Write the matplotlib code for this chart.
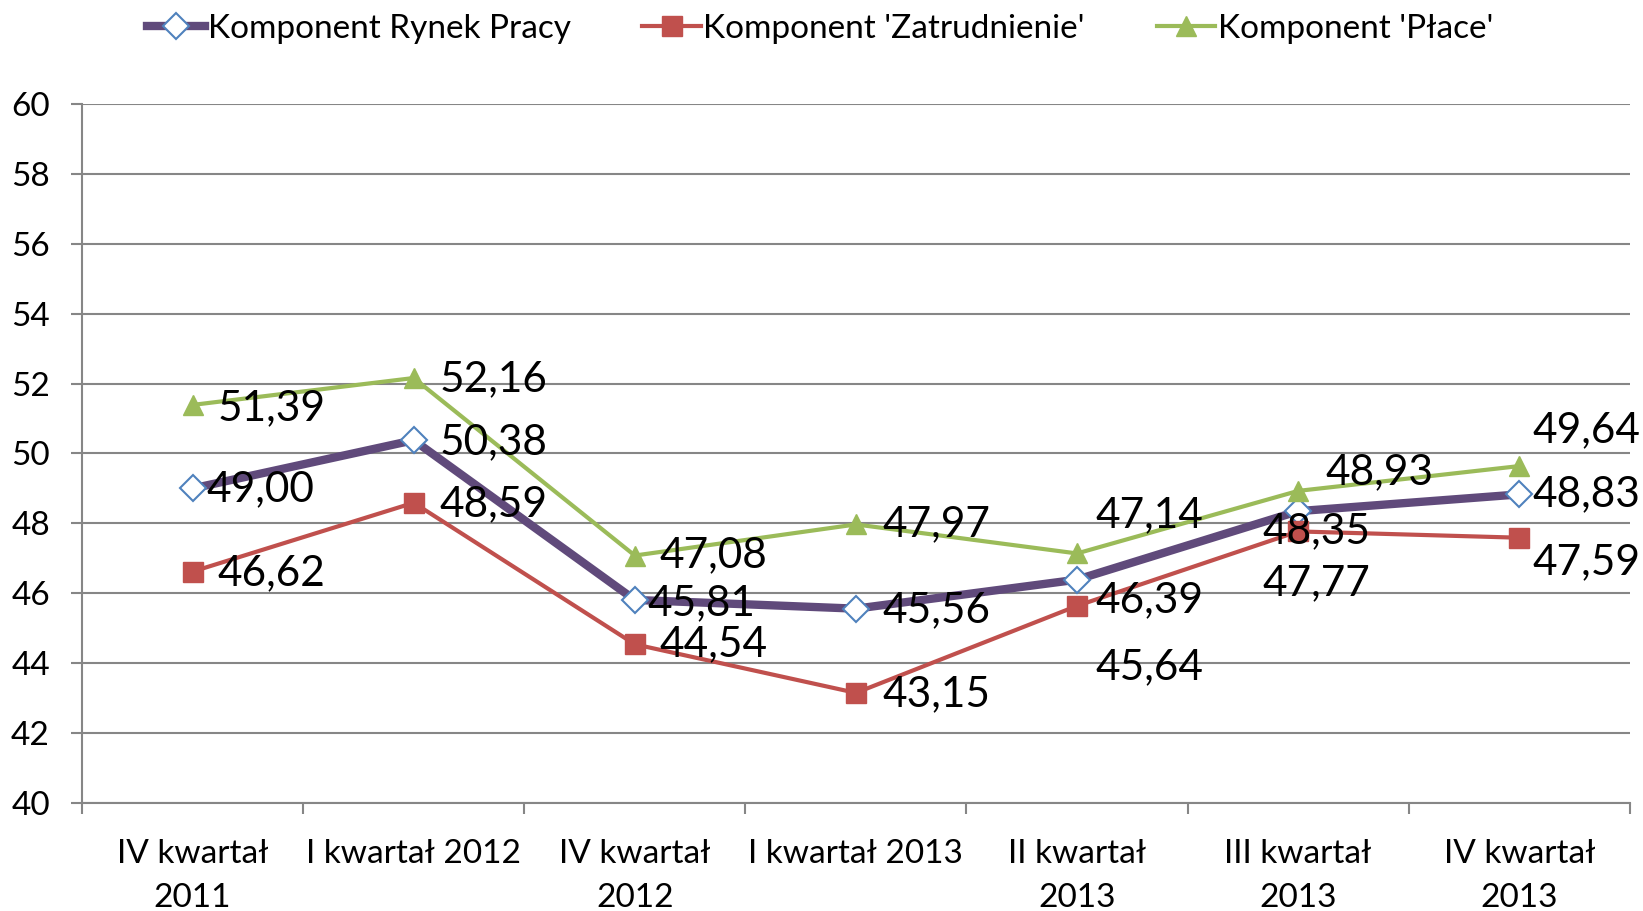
import matplotlib
matplotlib.use('Agg')
import matplotlib.pyplot as plt
from matplotlib.lines import Line2D
import numpy as np

plt.rcParams['font.family'] = ['Lato', 'DejaVu Sans']

categories = ['IV kwartał\n2011', 'I kwartał 2012', 'IV kwartał\n2012', 'I kwartał 2013',
              'II kwartał\n2013', 'III kwartał\n2013', 'IV kwartał\n2013']
rynek = [49.00, 50.38, 45.81, 45.56, 46.39, 48.35, 48.83]
zatrudnienie = [46.62, 48.59, 44.54, 43.15, 45.64, 47.77, 47.59]
place = [51.39, 52.16, 47.08, 47.97, 47.14, 48.93, 49.64]

# label offsets in pixels (dx, dy)
off_rynek = [(14, -1), (26, -2), (13, -3), (27, -2), (18, -21), (-36, -20), (13, 0)]
off_zatr = [(25, -2), (26, -1), (25, 0), (27, -1), (18, -61), (-36, -52), (13, -24)]
off_place = [(25, -3), (26, -1), (25, 0), (27, 0), (18, 38), (27, 19), (13, 36)]

fig = plt.figure(figsize=(16.43, 9.11), dpi=100)
ax = fig.add_axes([0.0499, 0.1186, 0.9421, 0.7672])
x = np.arange(len(categories))

purple = '#604A7B'
red = '#C0504D'
green = '#9BBB59'
blue = '#4F81BD'

style_r = dict(color=purple, lw=6, marker='D', ms=13, mfc='white', mec=blue, mew=1.5)
style_z = dict(color=red, lw=3, marker='s', ms=14, mfc=red, mec=red)
style_p = dict(color=green, lw=3, marker='^', ms=15, mfc=green, mec=green)

ax.plot(x, rynek, zorder=3, **style_r)
ax.plot(x, zatrudnienie, zorder=3, **style_z)
ax.plot(x, place, zorder=3, **style_p)

for vals, offs in [(rynek, off_rynek), (zatrudnienie, off_zatr), (place, off_place)]:
    for i, (v, o) in enumerate(zip(vals, offs)):
        ax.annotate(f'{v:.2f}'.replace('.', ','), (i, v), xytext=o, textcoords='offset pixels',
                    ha='left', va='center', fontsize=30.5, zorder=4)

ax.set_xlim(-0.5, 6.5)
ax.set_ylim(40, 60)
ax.set_yticks(range(40, 61, 2))
ax.yaxis.grid(True, color='#868686', lw=1.5)
ax.set_axisbelow(True)
ax.tick_params(axis='y', length=8, width=1.5, color='#868686', labelsize=24, pad=15)

ax.set_xticks(x)
ax.set_xticklabels(categories, fontsize=24, linespacing=1.6)
ax.set_xticks(np.arange(-0.5, 7, 1), minor=True)
ax.tick_params(axis='x', which='major', length=0, pad=26)
ax.tick_params(axis='x', which='minor', length=8, width=1.5, color='#868686', direction='out')

for s in ['top', 'right']:
    ax.spines[s].set_visible(False)
for s in ['left', 'bottom']:
    ax.spines[s].set_color('#868686')
    ax.spines[s].set_linewidth(1.5)

handles = [Line2D([], [], **style_r), Line2D([], [], **style_z), Line2D([], [], **style_p)]
fig.legend(handles, ['Komponent Rynek Pracy', "Komponent 'Zatrudnienie'", "Komponent 'Płace'"],
           loc='center', bbox_to_anchor=(0.499, 0.968), ncol=3, frameon=False, fontsize=24,
           handlelength=1.75, handletextpad=0.08, columnspacing=2.15)

fig.savefig('out.png', dpi=100)
